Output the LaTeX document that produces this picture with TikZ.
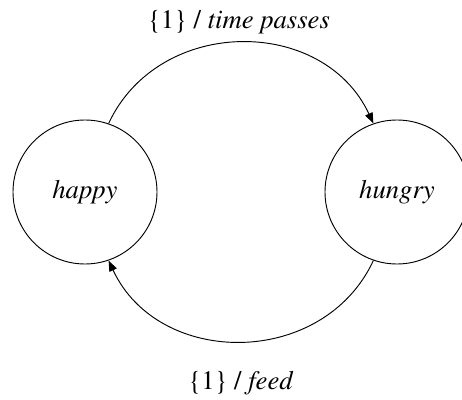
\documentclass[tikz,border=0pt]{standalone}
\usepackage[T1]{fontenc}
\usepackage{mathptmx}
\usetikzlibrary{arrows.meta}
\begin{document}
\begin{tikzpicture}[x=0.75pt,y=-0.75pt,
  state/.style={draw,circle,line width=0.7pt,minimum size=108pt,inner sep=0pt,font=\fontsize{20}{24}\selectfont\itshape},
  trans/.style={line width=0.7pt,-{Triangle[length=8pt,width=6pt]}},
  lab/.style={font=\fontsize{20}{24}\selectfont}]
\useasboundingbox (0,0) rectangle (462,400);
\node[state] (happy) at (85,192) {happy};
\node[state] (hungry) at (397,192) {hungry};
\draw[trans] (happy.71) to[out=65,in=115,looseness=1.15] (hungry.109);
\draw[trans] (hungry.-109) to[out=-115,in=-65,looseness=1.15] (happy.-71);
\node[lab] (toplab) at (239,22) {\{1\} / \textit{time passes}};
\node[lab] (botlab) at (241,383) {\{1\} / \textit{feed}};
\end{tikzpicture}
\end{document}
